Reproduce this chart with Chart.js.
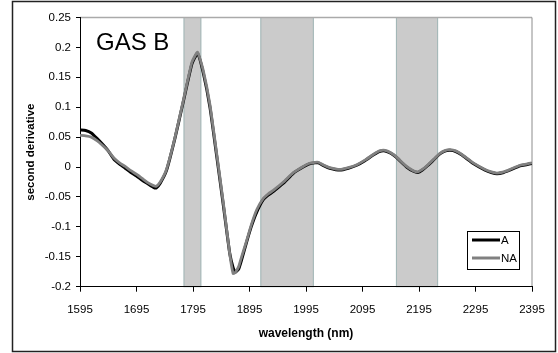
<!DOCTYPE html>
<html>
<head>
<meta charset="utf-8">
<script src="https://cdn.jsdelivr.net/npm/chart.js@4.4.0/dist/chart.umd.min.js"></script>
<style>
  html, body { margin: 0; padding: 0; background: #ffffff; }
  #wrap { width: 558px; height: 353px; position: relative; }
</style>
</head>
<body>
<div id="wrap"><canvas id="chart"></canvas></div>
<script>
    const CHART_TITLE = 'GAS B';
    const X_TITLE = 'wavelength (nm)';
    const Y_TITLE = 'second derivative';
    const SERIES_NAMES = ['A', 'NA'];

    // wavelength (nm) of each sampled point
    const wavelengths = [1595, 1605, 1615, 1625, 1635, 1645, 1655, 1665, 1675, 1685,
        1695, 1705, 1715, 1725, 1730, 1737, 1748, 1763, 1778, 1793,
        1803, 1813, 1825, 1837, 1849, 1860, 1866, 1870, 1876, 1881,
        1890, 1898, 1908, 1919, 1928, 1937, 1955, 1973, 1990, 2000,
        2011, 2017, 2027, 2037, 2055, 2070, 2085, 2100, 2114, 2125,
        2135, 2145, 2155, 2173, 2185, 2193, 2201, 2211, 2222, 2232,
        2242, 2250, 2260, 2271, 2291, 2312, 2323, 2333, 2345, 2356,
        2374, 2385, 2395];

    const seriesA = [0.062, 0.061, 0.057, 0.048, 0.038, 0.027, 0.013, 0.005, -0.002, -0.009,
        -0.015, -0.022, -0.028, -0.034, -0.035, -0.027, -0.006, 0.048, 0.110, 0.172,
        0.190, 0.158, 0.100, 0.018, -0.066, -0.144, -0.168, -0.176, -0.170, -0.155,
        -0.125, -0.100, -0.075, -0.055, -0.047, -0.041, -0.027, -0.010, 0.000, 0.005,
        0.007, 0.007, 0.002, -0.002, -0.005, -0.002, 0.003, 0.011, 0.020, 0.026,
        0.027, 0.023, 0.016, 0.000, -0.007, -0.009, -0.005, 0.003, 0.013, 0.022,
        0.027, 0.028, 0.026, 0.020, 0.006, -0.005, -0.009, -0.011, -0.009, -0.005,
        0.002, 0.004, 0.006];

    const seriesNA = [0.053, 0.052, 0.050, 0.044, 0.036, 0.027, 0.015, 0.007, 0.001, -0.006,
        -0.012, -0.019, -0.026, -0.031, -0.032, -0.025, -0.004, 0.049, 0.112, 0.175,
        0.192, 0.162, 0.104, 0.022, -0.062, -0.145, -0.178, -0.176, -0.166, -0.150,
        -0.123, -0.097, -0.071, -0.053, -0.045, -0.039, -0.025, -0.009, 0.001, 0.006,
        0.008, 0.008, 0.003, -0.001, -0.004, -0.001, 0.004, 0.012, 0.021, 0.027,
        0.028, 0.024, 0.017, 0.001, -0.006, -0.008, -0.004, 0.004, 0.014, 0.023,
        0.028, 0.029, 0.027, 0.021, 0.007, -0.004, -0.008, -0.010, -0.008, -0.004,
        0.003, 0.005, 0.007];

    // shaded wavelength bands [from, to]
    const bandStarts = [1779, 1915, 2155];
    const bandEnds = [1809, 2008, 2228];

    const xTicks = [1595, 1695, 1795, 1895, 1995, 2095, 2195, 2295, 2395];
    const yTicks = [-0.2, -0.15, -0.1, -0.05, 0, 0.05, 0.1, 0.15, 0.2, 0.25];

    const FONT = '"Liberation Sans", Arial, sans-serif';

    function toPoints(values) {
        return wavelengths.map((w, i) => ({x: w, y: values[i]}));
    }

    // background, outer frame, plot frame and grey bands
    const backdrop = {
        id: 'backdrop',
        beforeDraw(chart) {
            const ctx = chart.ctx;
            const area = chart.chartArea;
            const x = chart.scales.x;
            ctx.save();
            ctx.fillStyle = '#ffffff';
            ctx.fillRect(0, 0, chart.width, chart.height);
            ctx.strokeStyle = '#222222';
            ctx.lineWidth = 1.5;
            ctx.strokeRect(12.5, 1.5, 543, 350);

            for (let i = 0; i < bandStarts.length; i++) {
                const x1 = x.getPixelForValue(bandStarts[i]);
                const x2 = x.getPixelForValue(bandEnds[i]);
                ctx.fillStyle = '#cbcbcb';
                ctx.fillRect(x1, area.top, x2 - x1, area.bottom - area.top);
                ctx.strokeStyle = '#9db3b3';
                ctx.lineWidth = 1;
                ctx.strokeRect(x1, area.top, x2 - x1, area.bottom - area.top);
            }

            ctx.strokeStyle = '#aaaaaa';
            ctx.lineWidth = 1.5;
            ctx.beginPath();
            ctx.moveTo(area.left, area.top);
            ctx.lineTo(area.right, area.top);
            ctx.stroke();
            ctx.strokeStyle = '#8c8c8c';
            ctx.lineWidth = 1;
            ctx.beginPath();
            ctx.moveTo(area.right, area.top);
            ctx.lineTo(area.right, area.bottom);
            ctx.stroke();
            ctx.restore();
        }
    };

    // chart label and boxed legend inside the plot
    const overlay = {
        id: 'overlay',
        afterDraw(chart) {
            const ctx = chart.ctx;
            ctx.save();
            ctx.fillStyle = '#000000';
            ctx.font = '24px ' + FONT;
            ctx.textBaseline = 'alphabetic';
            ctx.textAlign = 'left';
            ctx.fillText(CHART_TITLE, 96, 50);

            const bx = 467.5, by = 231.5, bw = 52, bh = 38;
            ctx.fillStyle = '#ffffff';
            ctx.fillRect(bx, by, bw, bh);
            ctx.strokeStyle = '#000000';
            ctx.lineWidth = 1;
            ctx.strokeRect(bx, by, bw, bh);
            const colors = ['#000000', '#808080'];
            const rows = [240, 258];
            ctx.font = '11.5px ' + FONT;
            ctx.textBaseline = 'middle';
            for (let i = 0; i < SERIES_NAMES.length; i++) {
                ctx.strokeStyle = colors[i];
                ctx.lineWidth = 3;
                ctx.beginPath();
                ctx.moveTo(472, rows[i]);
                ctx.lineTo(500, rows[i]);
                ctx.stroke();
                ctx.fillStyle = '#000000';
                ctx.fillText(SERIES_NAMES[i], 501, rows[i] + 0.5);
            }
            ctx.restore();
        }
    };

    const ctx = document.getElementById('chart').getContext('2d');
    new Chart(ctx, {
        type: 'line',
        data: {
            datasets: [
                {
                    label: SERIES_NAMES[0],
                    data: toPoints(seriesA),
                    borderColor: '#000000',
                    borderWidth: 3,
                    pointRadius: 0,
                    tension: 0.15,
                    order: 2
                },
                {
                    label: SERIES_NAMES[1],
                    data: toPoints(seriesNA),
                    borderColor: '#808080',
                    borderWidth: 2.8,
                    pointRadius: 0,
                    tension: 0.15,
                    order: 1
                }
            ]
        },
        options: {
            responsive: true,
            maintainAspectRatio: false,
            animation: false,
            devicePixelRatio: 1,
            layout: {padding: {left: 13, top: 17.5, right: 26, bottom: 0}},
            plugins: {
                legend: {display: false},
                tooltip: {enabled: false}
            },
            scales: {
                x: {
                    type: 'linear',
                    min: 1595,
                    max: 2395,
                    afterFit: s => { s.height = 66.3; },
                    afterBuildTicks: s => { s.ticks = xTicks.map(v => ({value: v})); },
                    grid: {display: true, drawOnChartArea: false, drawTicks: true, tickLength: 5, color: '#000000'},
                    border: {display: true, color: '#000000', width: 1},
                    ticks: {
                        color: '#000000',
                        padding: 11,
                        maxRotation: 0,
                        font: {family: FONT, size: 11.5},
                        callback: v => String(v)
                    },
                    title: {
                        display: true,
                        text: X_TITLE,
                        color: '#000000',
                        padding: {top: 0, bottom: 12},
                        font: {family: FONT, size: 12, weight: 'bold'}
                    }
                },
                y: {
                    min: -0.2,
                    max: 0.25,
                    afterFit: s => { s.width = 67; },
                    afterBuildTicks: s => { s.ticks = yTicks.map(v => ({value: v})); },
                    grid: {display: true, drawOnChartArea: false, drawTicks: true, tickLength: 4, color: '#000000'},
                    border: {display: true, color: '#000000', width: 1},
                    ticks: {
                        color: '#000000',
                        padding: 5,
                        font: {family: FONT, size: 11.5},
                        callback: v => String(Number(v.toFixed(2)))
                    },
                    title: {
                        display: true,
                        text: Y_TITLE,
                        color: '#000000',
                        padding: {top: 10.5, bottom: 0},
                        font: {family: FONT, size: 11.5, weight: 'bold'}
                    }
                }
            }
        },
        plugins: [backdrop, overlay]
    });
</script>
</body>
</html>
